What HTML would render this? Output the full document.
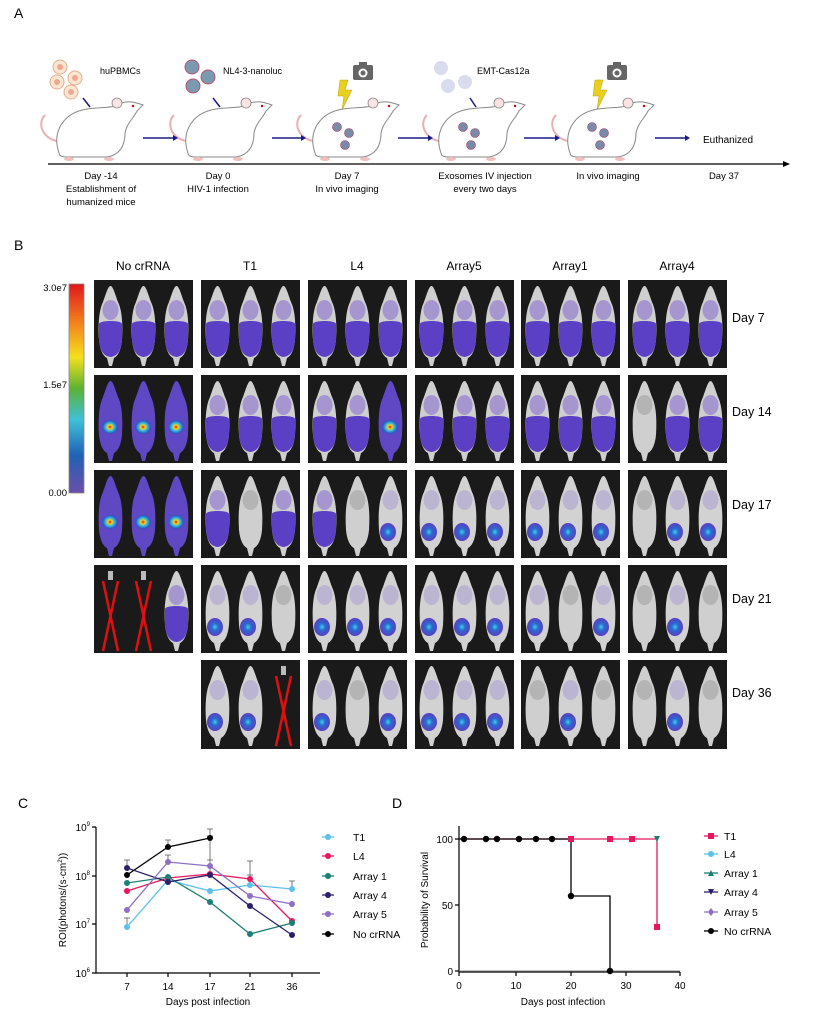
<!DOCTYPE html>
<html><head><meta charset="utf-8"><style>
html,body{margin:0;padding:0;background:#fff}
svg text{font-family:"Liberation Sans",Arial,sans-serif}
</style></head><body>
<svg width="836" height="1010" viewBox="0 0 836 1010" xmlns="http://www.w3.org/2000/svg">
<defs>
  <linearGradient id="cb" x1="0" y1="0" x2="0" y2="1">
    <stop offset="0" stop-color="#e0161e"/><stop offset="0.2" stop-color="#f38a1d"/>
    <stop offset="0.35" stop-color="#f4e01c"/><stop offset="0.5" stop-color="#5cb233"/>
    <stop offset="0.65" stop-color="#3fc0d8"/><stop offset="0.82" stop-color="#2161b5"/>
    <stop offset="1" stop-color="#6b4fa8"/>
  </linearGradient>
  <radialGradient id="hot"><stop offset="0" stop-color="#e01818"/><stop offset="0.25" stop-color="#f2d21c"/><stop offset="0.5" stop-color="#38b8e0"/><stop offset="0.8" stop-color="#2a5cc0"/><stop offset="1" stop-color="#5a3fbf" stop-opacity="0"/></radialGradient>
  <radialGradient id="blu"><stop offset="0" stop-color="#3fd0e8"/><stop offset="0.4" stop-color="#2a6ad0"/><stop offset="1" stop-color="#5a3fbf"/></radialGradient>
  <path id="mb" d="M16.5,6 C19,6 21,14 24,22 C28,30 29,44 28,60 C27,70 24,76 20,78 L18,86 L15,86 L13,78 C9,76 6,70 5,60 C4,44 5,30 9,22 C12,14 14,6 16.5,6Z"/>
  <symbol id="mW" viewBox="0 0 33 88" overflow="visible"><use href="#mb" fill="#cfcfcf"/><ellipse cx="16.5" cy="30" rx="8" ry="10" fill="#999" opacity="0.5"/></symbol>
  <symbol id="mP" viewBox="0 0 33 88" overflow="visible"><use href="#mb" fill="#cfcfcf"/><ellipse cx="16.5" cy="30" rx="8" ry="10" fill="#8a6fd0" opacity="0.6"/><path d="M5,44 C5,40 28,40 28,44 L28,60 C27,70 24,76 16.5,77 C9,76 6,70 5,60Z" fill="#5b3fc4"/></symbol>
  <symbol id="mH" viewBox="0 0 33 88" overflow="visible"><use href="#mb" fill="#6048c4"/><ellipse cx="16" cy="52" rx="9" ry="8" fill="url(#hot)"/></symbol>
  <symbol id="mS" viewBox="0 0 33 88" overflow="visible"><use href="#mb" fill="#d2d2d2"/><ellipse cx="16.5" cy="30" rx="8" ry="10" fill="#9a8ad0" opacity="0.4"/><ellipse cx="14" cy="62" rx="8" ry="9" fill="url(#blu)"/></symbol>
  <symbol id="mX" viewBox="0 0 33 88" overflow="visible"><rect x="14" y="6" width="5" height="9" fill="#bbb"/><path d="M9,16 L24,86 M24,16 L9,86" stroke="#e01010" stroke-width="2.5"/></symbol>
  <g id="cart">
    <path d="M-40,8 C-55,5 -60,-10 -52,-18" fill="none" stroke="#e8b0b0" stroke-width="2"/>
    <path d="M-38,20 C-45,0 -35,-20 -10,-24 C5,-26 15,-25 20,-28 C30,-34 40,-30 46,-28 L40,-22 C36,-14 30,-10 28,0 C28,14 22,22 10,24 L-30,24 C-36,24 -38,22 -38,20Z" fill="#fff" stroke="#888" stroke-width="1"/>
    <circle cx="20" cy="-30" r="5" fill="#fbe3e3" stroke="#888" stroke-width="0.8"/>
    <circle cx="36" cy="-27" r="1.2" fill="#c00"/>
    <ellipse cx="-28" cy="26" rx="5" ry="2" fill="#f0c0c0"/><ellipse cx="12" cy="26" rx="5" ry="2" fill="#f0c0c0"/>
  </g>
  <g id="spots"><circle cx="-16" cy="-6" r="4.5" fill="#7a8aa8" stroke="#a04060" stroke-width="0.6"/><circle cx="-4" cy="0" r="4.5" fill="#7a8aa8" stroke="#a04060" stroke-width="0.6"/><circle cx="-8" cy="12" r="4.5" fill="#7a8aa8" stroke="#a04060" stroke-width="0.6"/></g>
  <g id="cam"><rect x="-10" y="-8" width="20" height="15" rx="2" fill="#666"/><rect x="-4" y="-11" width="8" height="4" fill="#666"/><circle cx="0" cy="0" r="4.5" fill="#fff"/><circle cx="0" cy="0" r="2.5" fill="#666"/></g>
  <path id="bolt" d="M0,0 L8,0 L5,10 L12,10 L2,30 L4,16 L-2,16Z" fill="#e8d020" stroke="#b8a000" stroke-width="0.5"/>
</defs>

<!-- Panel A -->
<text x="14" y="18" font-size="14">A</text>
<g font-size="9">
<circle cx="60" cy="67" r="7" fill="#fbe6d2" stroke="#e0b090"/><circle cx="60" cy="67" r="3" fill="#f0a890"/>
<circle cx="75" cy="78" r="7" fill="#fbe6d2" stroke="#e0b090"/><circle cx="75" cy="78" r="3" fill="#f0a890"/>
<circle cx="57" cy="82" r="7" fill="#fbe6d2" stroke="#e0b090"/><circle cx="57" cy="82" r="3" fill="#f0a890"/>
<circle cx="71" cy="92" r="7" fill="#fbe6d2" stroke="#e0b090"/><circle cx="71" cy="92" r="3" fill="#f0a890"/>
<text x="100" y="74">huPBMCs</text>
<circle cx="192" cy="67" r="7" fill="#7a9ab0" stroke="#c05070"/><circle cx="208" cy="77" r="7" fill="#7a9ab0" stroke="#c05070"/><circle cx="193" cy="86" r="7" fill="#7a9ab0" stroke="#c05070"/>
<text x="223" y="74">NL4-3-nanoluc</text>
<circle cx="441" cy="68" r="7" fill="#d8dcec"/><circle cx="448" cy="86" r="7" fill="#d8dcec"/><circle cx="465" cy="82" r="7" fill="#d8dcec"/>
<text x="477" y="74">EMT-Cas12a</text>
</g>
<g stroke="#1a1a8a" stroke-width="1.5" fill="#1a1a8a">
<line x1="83" y1="98" x2="90" y2="107"/><line x1="213" y1="98" x2="220" y2="107"/><line x1="470" y1="98" x2="476" y2="107"/>
</g>
<use href="#cam" x="363" y="73"/><use href="#cam" x="617" y="73"/>
<use href="#bolt" x="340" y="80"/><use href="#bolt" x="595" y="80"/>
<use href="#cart" x="97" y="133"/><use href="#cart" x="226" y="133"/>
<use href="#cart" x="353" y="133"/><use href="#spots" x="353" y="133"/>
<use href="#cart" x="479" y="133"/><use href="#spots" x="479" y="133"/>
<use href="#cart" x="608" y="133"/><use href="#spots" x="608" y="133"/>
<g stroke="#1a1a8a" stroke-width="1.5">
<line x1="143" y1="138" x2="175" y2="138"/><line x1="272" y1="138" x2="303" y2="138"/><line x1="398" y1="138" x2="430" y2="138"/><line x1="524" y1="138" x2="557" y2="138"/><line x1="655" y1="138" x2="687" y2="138"/>
</g>
<g fill="#1a1a8a"><path d="M178,138 l-5,-3 v6z"/><path d="M306,138 l-5,-3 v6z"/><path d="M433,138 l-5,-3 v6z"/><path d="M560,138 l-5,-3 v6z"/><path d="M690,138 l-5,-3 v6z"/></g>
<text x="703" y="143" font-size="10">Euthanized</text>
<line x1="48" y1="164" x2="784" y2="164" stroke="#000" stroke-width="1.2"/><path d="M790,164 l-7,-3 v6z"/>
<g font-size="9.5" text-anchor="middle">
<text x="101" y="179">Day -14</text><text x="101" y="192">Establishment of</text><text x="101" y="205">humanized mice</text>
<text x="218" y="179">Day 0</text><text x="218" y="192">HIV-1 infection</text>
<text x="347" y="179">Day 7</text><text x="347" y="192">In vivo imaging</text>
<text x="485" y="179">Exosomes IV injection</text><text x="485" y="192">every two days</text>
<text x="608" y="179">In vivo imaging</text>
<text x="724" y="179">Day 37</text>
</g>

<!-- Panel B -->
<text x="14" y="250" font-size="14">B</text>
<g font-size="12" text-anchor="middle">
<text x="143" y="270">No crRNA</text><text x="250" y="270">T1</text><text x="357" y="270">L4</text><text x="464" y="270">Array5</text><text x="570" y="270">Array1</text><text x="677" y="270">Array4</text>
</g>
<rect x="69" y="284" width="15" height="209" fill="url(#cb)" stroke="#888" stroke-width="0.8"/>
<g font-size="9.5" text-anchor="end"><text x="67" y="291">3.0e7</text><text x="67" y="388">1.5e7</text><text x="67" y="496">0.00</text></g>
<g font-size="12.5"><text x="732" y="322">Day 7</text><text x="732" y="416">Day 14</text><text x="732" y="509">Day 17</text><text x="732" y="603">Day 21</text><text x="732" y="697">Day 36</text></g>
<g id="grid"></g>
<!-- panels generated inline -->
<g>
<!-- row1 y=280 -->
<g transform="translate(94,280)"><rect width="99" height="88" fill="#1a1a1a"/><use href="#mP" x="0" y="0" width="33" height="88"/><use href="#mP" x="33" width="33" height="88"/><use href="#mP" x="66" width="33" height="88"/></g>
<g transform="translate(201,280)"><rect width="99" height="88" fill="#1a1a1a"/><use href="#mP" x="0" width="33" height="88"/><use href="#mP" x="33" width="33" height="88"/><use href="#mP" x="66" width="33" height="88"/></g>
<g transform="translate(308,280)"><rect width="99" height="88" fill="#1a1a1a"/><use href="#mP" x="0" width="33" height="88"/><use href="#mP" x="33" width="33" height="88"/><use href="#mP" x="66" width="33" height="88"/></g>
<g transform="translate(415,280)"><rect width="99" height="88" fill="#1a1a1a"/><use href="#mP" x="0" width="33" height="88"/><use href="#mP" x="33" width="33" height="88"/><use href="#mP" x="66" width="33" height="88"/></g>
<g transform="translate(521,280)"><rect width="99" height="88" fill="#1a1a1a"/><use href="#mP" x="0" width="33" height="88"/><use href="#mP" x="33" width="33" height="88"/><use href="#mP" x="66" width="33" height="88"/></g>
<g transform="translate(628,280)"><rect width="99" height="88" fill="#1a1a1a"/><use href="#mP" x="0" width="33" height="88"/><use href="#mP" x="33" width="33" height="88"/><use href="#mP" x="66" width="33" height="88"/></g>
<!-- row2 y=375 -->
<g transform="translate(94,375)"><rect width="99" height="88" fill="#1a1a1a"/><use href="#mH" x="0" width="33" height="88"/><use href="#mH" x="33" width="33" height="88"/><use href="#mH" x="66" width="33" height="88"/></g>
<g transform="translate(201,375)"><rect width="99" height="88" fill="#1a1a1a"/><use href="#mP" x="0" width="33" height="88"/><use href="#mP" x="33" width="33" height="88"/><use href="#mP" x="66" width="33" height="88"/></g>
<g transform="translate(308,375)"><rect width="99" height="88" fill="#1a1a1a"/><use href="#mP" x="0" width="33" height="88"/><use href="#mP" x="33" width="33" height="88"/><use href="#mH" x="66" width="33" height="88"/></g>
<g transform="translate(415,375)"><rect width="99" height="88" fill="#1a1a1a"/><use href="#mP" x="0" width="33" height="88"/><use href="#mP" x="33" width="33" height="88"/><use href="#mP" x="66" width="33" height="88"/></g>
<g transform="translate(521,375)"><rect width="99" height="88" fill="#1a1a1a"/><use href="#mP" x="0" width="33" height="88"/><use href="#mP" x="33" width="33" height="88"/><use href="#mP" x="66" width="33" height="88"/></g>
<g transform="translate(628,375)"><rect width="99" height="88" fill="#1a1a1a"/><use href="#mW" x="0" width="33" height="88"/><use href="#mP" x="33" width="33" height="88"/><use href="#mP" x="66" width="33" height="88"/></g>
<!-- row3 y=470 -->
<g transform="translate(94,470)"><rect width="99" height="88" fill="#1a1a1a"/><use href="#mH" x="0" width="33" height="88"/><use href="#mH" x="33" width="33" height="88"/><use href="#mH" x="66" width="33" height="88"/></g>
<g transform="translate(201,470)"><rect width="99" height="88" fill="#1a1a1a"/><use href="#mP" x="0" width="33" height="88"/><use href="#mW" x="33" width="33" height="88"/><use href="#mP" x="66" width="33" height="88"/></g>
<g transform="translate(308,470)"><rect width="99" height="88" fill="#1a1a1a"/><use href="#mP" x="0" width="33" height="88"/><use href="#mW" x="33" width="33" height="88"/><use href="#mS" x="66" width="33" height="88"/></g>
<g transform="translate(415,470)"><rect width="99" height="88" fill="#1a1a1a"/><use href="#mS" x="0" width="33" height="88"/><use href="#mS" x="33" width="33" height="88"/><use href="#mS" x="66" width="33" height="88"/></g>
<g transform="translate(521,470)"><rect width="99" height="88" fill="#1a1a1a"/><use href="#mS" x="0" width="33" height="88"/><use href="#mS" x="33" width="33" height="88"/><use href="#mS" x="66" width="33" height="88"/></g>
<g transform="translate(628,470)"><rect width="99" height="88" fill="#1a1a1a"/><use href="#mW" x="0" width="33" height="88"/><use href="#mS" x="33" width="33" height="88"/><use href="#mS" x="66" width="33" height="88"/></g>
<!-- row4 y=565 -->
<g transform="translate(94,565)"><rect width="99" height="88" fill="#1a1a1a"/><use href="#mX" x="0" width="33" height="88"/><use href="#mX" x="33" width="33" height="88"/><use href="#mP" x="66" width="33" height="88"/></g>
<g transform="translate(201,565)"><rect width="99" height="88" fill="#1a1a1a"/><use href="#mS" x="0" width="33" height="88"/><use href="#mS" x="33" width="33" height="88"/><use href="#mW" x="66" width="33" height="88"/></g>
<g transform="translate(308,565)"><rect width="99" height="88" fill="#1a1a1a"/><use href="#mS" x="0" width="33" height="88"/><use href="#mS" x="33" width="33" height="88"/><use href="#mS" x="66" width="33" height="88"/></g>
<g transform="translate(415,565)"><rect width="99" height="88" fill="#1a1a1a"/><use href="#mS" x="0" width="33" height="88"/><use href="#mS" x="33" width="33" height="88"/><use href="#mS" x="66" width="33" height="88"/></g>
<g transform="translate(521,565)"><rect width="99" height="88" fill="#1a1a1a"/><use href="#mS" x="0" width="33" height="88"/><use href="#mW" x="33" width="33" height="88"/><use href="#mS" x="66" width="33" height="88"/></g>
<g transform="translate(628,565)"><rect width="99" height="88" fill="#1a1a1a"/><use href="#mW" x="0" width="33" height="88"/><use href="#mS" x="33" width="33" height="88"/><use href="#mW" x="66" width="33" height="88"/></g>
<!-- row5 y=660 -->
<g transform="translate(201,660)"><rect width="99" height="89" fill="#1a1a1a"/><use href="#mS" x="0" width="33" height="88"/><use href="#mS" x="33" width="33" height="88"/><use href="#mX" x="66" width="33" height="88"/></g>
<g transform="translate(308,660)"><rect width="99" height="89" fill="#1a1a1a"/><use href="#mS" x="0" width="33" height="88"/><use href="#mW" x="33" width="33" height="88"/><use href="#mS" x="66" width="33" height="88"/></g>
<g transform="translate(415,660)"><rect width="99" height="89" fill="#1a1a1a"/><use href="#mS" x="0" width="33" height="88"/><use href="#mS" x="33" width="33" height="88"/><use href="#mS" x="66" width="33" height="88"/></g>
<g transform="translate(521,660)"><rect width="99" height="89" fill="#1a1a1a"/><use href="#mW" x="0" width="33" height="88"/><use href="#mS" x="33" width="33" height="88"/><use href="#mW" x="66" width="33" height="88"/></g>
<g transform="translate(628,660)"><rect width="99" height="89" fill="#1a1a1a"/><use href="#mW" x="0" width="33" height="88"/><use href="#mS" x="33" width="33" height="88"/><use href="#mW" x="66" width="33" height="88"/></g>
</g>

<!-- Panel C -->
<text x="18" y="808" font-size="14">C</text>
<g stroke="#000" stroke-width="1.2" fill="none">
<path d="M96,827 V973 H320"/>
<path d="M92,827 H96 M92,876 H96 M92,924 H96 M92,973 H96"/>
<path d="M127,973 v4 M168,973 v4 M210,973 v4 M250,973 v4 M292,973 v4"/>
</g>
<g font-size="10" text-anchor="end"><text x="90" y="831">10<tspan font-size="6" dy="-5">9</tspan></text><text x="90" y="880">10<tspan font-size="6" dy="-5">8</tspan></text><text x="90" y="928">10<tspan font-size="6" dy="-5">7</tspan></text><text x="90" y="977">10<tspan font-size="6" dy="-5">6</tspan></text></g>
<g font-size="10" text-anchor="middle"><text x="127" y="990">7</text><text x="168" y="990">14</text><text x="210" y="990">17</text><text x="250" y="990">21</text><text x="292" y="990">36</text><text x="208" y="1005">Days post infection</text></g>
<text transform="translate(66,900) rotate(-90)" font-size="10" text-anchor="middle">ROI(photons/(s·cm<tspan font-size="6" dy="-4">2</tspan><tspan dy="4">))</tspan></text>
<g fill="none" stroke-width="1.3">
<polyline points="127,927 168,880 210,891 250,885 292,889" stroke="#5bc0eb"/>
<polyline points="127,891 168,878 210,874 250,879 292,921" stroke="#e8175d"/>
<polyline points="127,883 168,877 210,902 250,934 292,923" stroke="#1a7f74"/>
<polyline points="127,868 168,882 210,875 250,906 292,935" stroke="#2d1e6b"/>
<polyline points="127,910 168,862 210,866 250,896 292,904" stroke="#8f6fc4"/>
<polyline points="127,875 168,847 210,838" stroke="#000"/>
<path d="M127,927 V918 m-3,0 h6 M250,879 V861 m-3,0h6 M210,874 V860 m-3,0h6 M210,866 V836 m-3,0h6 M168,847 V840 m-3,0h6 M210,838 V829 m-3,0h6 M127,868 V860 m-3,0h6 M292,889 V881 m-3,0h6 M250,885 V875 m-3,0h6 M168,862 V855 m-3,0h6" stroke="#555" stroke-width="0.8"/>
</g>
<g>
<g fill="#5bc0eb"><circle cx="127" cy="927" r="3"/><circle cx="168" cy="880" r="3"/><circle cx="210" cy="891" r="3"/><circle cx="250" cy="885" r="3"/><circle cx="292" cy="889" r="3"/></g>
<g fill="#e8175d"><circle cx="127" cy="891" r="3"/><circle cx="168" cy="878" r="3"/><circle cx="210" cy="874" r="3"/><circle cx="250" cy="879" r="3"/><circle cx="292" cy="921" r="3"/></g>
<g fill="#1a7f74"><circle cx="127" cy="883" r="3"/><circle cx="168" cy="877" r="3"/><circle cx="210" cy="902" r="3"/><circle cx="250" cy="934" r="3"/><circle cx="292" cy="923" r="3"/></g>
<g fill="#2d1e6b"><circle cx="127" cy="868" r="3"/><circle cx="168" cy="882" r="3"/><circle cx="210" cy="875" r="3"/><circle cx="250" cy="906" r="3"/><circle cx="292" cy="935" r="3"/></g>
<g fill="#8f6fc4"><circle cx="127" cy="910" r="3"/><circle cx="168" cy="862" r="3"/><circle cx="210" cy="866" r="3"/><circle cx="250" cy="896" r="3"/><circle cx="292" cy="904" r="3"/></g>
<g fill="#000"><circle cx="127" cy="875" r="3"/><circle cx="168" cy="847" r="3"/><circle cx="210" cy="838" r="3"/></g>
</g>
<g font-size="10.5">
<line x1="322" y1="837" x2="334" y2="837" stroke="#5bc0eb" stroke-width="1.3"/><circle cx="328" cy="837" r="3" fill="#5bc0eb"/><text x="353" y="841">T1</text>
<line x1="322" y1="856" x2="334" y2="856" stroke="#e8175d" stroke-width="1.3"/><circle cx="328" cy="856" r="3" fill="#e8175d"/><text x="353" y="860">L4</text>
<line x1="322" y1="876" x2="334" y2="876" stroke="#1a7f74" stroke-width="1.3"/><circle cx="328" cy="876" r="3" fill="#1a7f74"/><text x="353" y="880">Array 1</text>
<line x1="322" y1="895" x2="334" y2="895" stroke="#2d1e6b" stroke-width="1.3"/><circle cx="328" cy="895" r="3" fill="#2d1e6b"/><text x="353" y="899">Array 4</text>
<line x1="322" y1="914" x2="334" y2="914" stroke="#8f6fc4" stroke-width="1.3"/><circle cx="328" cy="914" r="3" fill="#8f6fc4"/><text x="353" y="918">Array 5</text>
<line x1="322" y1="934" x2="334" y2="934" stroke="#000" stroke-width="1.3"/><circle cx="328" cy="934" r="3" fill="#000"/><text x="353" y="938">No crRNA</text>
</g>

<!-- Panel D -->
<text x="392" y="808" font-size="14">D</text>
<g stroke="#000" stroke-width="1.2" fill="none">
<path d="M459,826 V972 H680"/>
<path d="M455,839 H459 M455,905 H459 M455,971 H459"/>
<path d="M459,972 v4 M516,972 v4 M571,972 v4 M626,972 v4 M680,972 v4"/>
</g>
<g font-size="10" text-anchor="end"><text x="453" y="843">100</text><text x="453" y="909">50</text><text x="453" y="975">0</text></g>
<g font-size="10" text-anchor="middle"><text x="459" y="989">0</text><text x="516" y="989">10</text><text x="571" y="989">20</text><text x="626" y="989">30</text><text x="680" y="989">40</text><text x="563" y="1005">Days post infection</text></g>
<text transform="translate(428,900) rotate(-90)" font-size="10" text-anchor="middle">Probability of Survival</text>
<line x1="459" y1="971" x2="680" y2="971" stroke="#888" stroke-width="1"/>
<polyline points="459,839 657,839 657,927" fill="none" stroke="#e8175d" stroke-width="1.3"/>
<polyline points="459,839 571,839 571,896 610,896 610,971" fill="none" stroke="#000" stroke-width="1.3"/>
<g fill="#e8175d"><rect x="568" y="836" width="6" height="6"/><rect x="607" y="836" width="6" height="6"/><rect x="629" y="836" width="6" height="6"/><rect x="654" y="924" width="6" height="6"/></g>
<path d="M654,836 h6 l-3,6z" fill="#1a7f74"/>
<g fill="#000"><circle cx="464" cy="839" r="3.2"/><circle cx="486" cy="839" r="3.2"/><circle cx="497" cy="839" r="3.2"/><circle cx="519" cy="839" r="3.2"/><circle cx="536" cy="839" r="3.2"/><circle cx="552" cy="839" r="3.2"/><circle cx="571" cy="896" r="3.2"/><circle cx="610" cy="971" r="3.2"/></g>
<g font-size="10.5">
<line x1="704" y1="836" x2="718" y2="836" stroke="#e8175d" stroke-width="1.3"/><rect x="708" y="833" width="6" height="6" fill="#e8175d"/><text x="724" y="840">T1</text>
<line x1="704" y1="854" x2="718" y2="854" stroke="#5bc0eb" stroke-width="1.3"/><circle cx="711" cy="854" r="3" fill="#5bc0eb"/><text x="724" y="858">L4</text>
<line x1="704" y1="873" x2="718" y2="873" stroke="#1a7f74" stroke-width="1.3"/><path d="M708,876 h6 l-3,-6z" fill="#1a7f74"/><text x="724" y="877">Array 1</text>
<line x1="704" y1="892" x2="718" y2="892" stroke="#2d1e6b" stroke-width="1.3"/><path d="M708,889 h6 l-3,6z" fill="#2d1e6b"/><text x="724" y="896">Array 4</text>
<line x1="704" y1="912" x2="718" y2="912" stroke="#8f6fc4" stroke-width="1.3"/><path d="M711,908 l3,4 -3,4 -3,-4z" fill="#8f6fc4"/><text x="724" y="916">Array 5</text>
<line x1="704" y1="931" x2="718" y2="931" stroke="#000" stroke-width="1.3"/><circle cx="711" cy="931" r="3" fill="#000"/><text x="724" y="935">No crRNA</text>
</g>
</svg>
</body></html>
